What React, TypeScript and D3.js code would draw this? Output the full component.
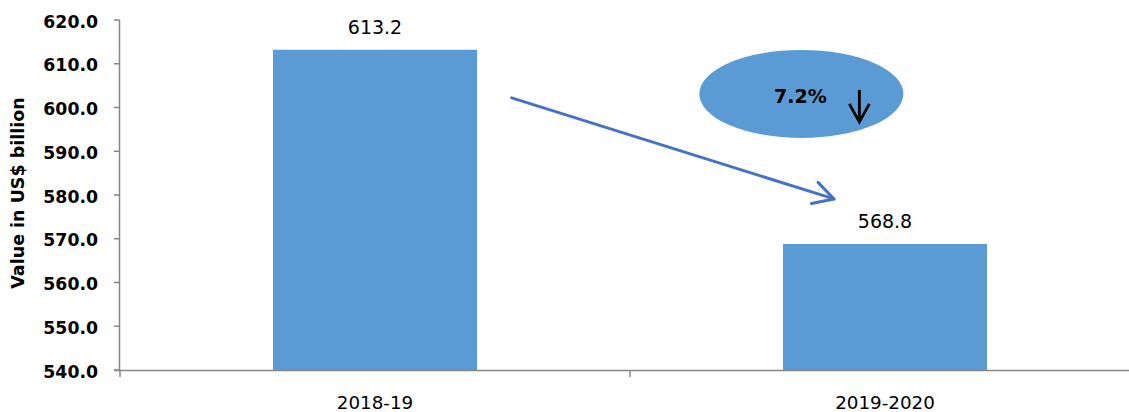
import React from "react";
import * as d3 from "d3";

const categories = ["2018-19", "2019-2020"];
const values = [613.2, 568.8];
const yTicks = [540, 550, 560, 570, 580, 590, 600, 610, 620];
const changeLabel = "7.2%";
// trend arrow endpoints in data terms: [category index, offset in band-widths, value]
const arrowFrom = { cat: 0, off: 1.17, value: 602.2 };
const arrowTo = { cat: 1, off: 0.25, value: 579.1 };
const bubble = { cat: 1, off: 0.09, value: 603.1 };

const W = 1129;
const H = 412;
const FONT = "'DejaVu Sans', sans-serif";
const BAR = "#5B9BD5";
const AXIS = "#868686";

export default function App() {
  const x = d3
    .scaleBand<string>()
    .domain(categories)
    .range([120, 1140])
    .paddingInner(0.6)
    .paddingOuter(0.3);
  const y = d3.scaleLinear().domain([540, 620]).range([370, 20]);
  const bw = x.bandwidth();
  const px = (p: { cat: number; off: number }) => (x(categories[p.cat]) as number) + p.off * bw;

  const ax1 = px(arrowFrom), ay1 = y(arrowFrom.value);
  const ax2 = px(arrowTo), ay2 = y(arrowTo.value);
  const ang = Math.atan2(ay2 - ay1, ax2 - ax1);
  const hl = 23, ha = 0.5;
  const h1 = [ax2 - hl * Math.cos(ang - ha), ay2 - hl * Math.sin(ang - ha)];
  const h2 = [ax2 - hl * Math.cos(ang + ha), ay2 - hl * Math.sin(ang + ha)];

  const bx = px(bubble), by = y(bubble.value);

  return (
    <svg width={W} height={H} style={{ position: "absolute", left: 0, top: 0, background: "#fff" }}>
      {/* bars */}
      {categories.map((c, i) => (
        <rect key={c} x={x(c)} y={y(values[i])} width={bw} height={y(540) - y(values[i])} fill={BAR} />
      ))}
      {/* axes */}
      <line x1={119.5} x2={119.5} y1={20} y2={370} stroke={AXIS} strokeWidth={1.5} />
      <line x1={114} x2={1140} y1={370.5} y2={370.5} stroke={AXIS} strokeWidth={1.5} />
      {yTicks.map((t) => (
        <g key={t}>
          <line x1={114} x2={119.5} y1={y(t)} y2={y(t)} stroke={AXIS} strokeWidth={1.5} />
          <text x={98} y={y(t) + 7.5} textAnchor="end" fontFamily={FONT} fontWeight="bold" fontSize={17.3} fill="#000">
            {t.toFixed(1)}
          </text>
        </g>
      ))}
      {[120, 630, 1140].map((t) => (
        <line key={t} x1={t} x2={t} y1={370} y2={377} stroke={AXIS} strokeWidth={1.5} />
      ))}
      {categories.map((c) => (
        <text key={c} x={(x(c) as number) + bw / 2} y={409} textAnchor="middle" fontFamily={FONT} fontSize={18.3} fill="#000">
          {c}
        </text>
      ))}
      {categories.map((c, i) => (
        <text key={c} x={(x(c) as number) + bw / 2} y={y(values[i]) - 16} textAnchor="middle" fontFamily={FONT} fontSize={19} fill="#000">
          {values[i].toFixed(1)}
        </text>
      ))}
      <text
        transform={`translate(24,193) rotate(-90)`}
        textAnchor="middle"
        fontFamily={FONT}
        fontWeight="bold"
        fontSize={17.5}
        fill="#000"
      >
        Value in US$ billion
      </text>
      {/* trend arrow */}
      <line x1={ax1} y1={ay1} x2={ax2} y2={ay2} stroke="#4472C4" strokeWidth={3} strokeLinecap="round" />
      <polyline points={`${h1[0]},${h1[1]} ${ax2},${ay2} ${h2[0]},${h2[1]}`} fill="none" stroke="#4472C4" strokeWidth={3} strokeLinecap="round" strokeLinejoin="round" />
      {/* bubble */}
      <ellipse cx={bx} cy={by} rx={102} ry={44} fill={BAR} />
      <text x={bx - 1} y={by + 9} textAnchor="middle" fontFamily={FONT} fontWeight="bold" fontSize={19} fill="#000">
        {changeLabel}
      </text>
      <line x1={bx + 58} x2={bx + 58} y1={by - 4} y2={by + 28} stroke="#000" strokeWidth={2.8} />
      <polyline points={`${bx + 48},${by + 10} ${bx + 58},${by + 28} ${bx + 68},${by + 10}`} fill="none" stroke="#000" strokeWidth={2.8} />
    </svg>
  );
}
